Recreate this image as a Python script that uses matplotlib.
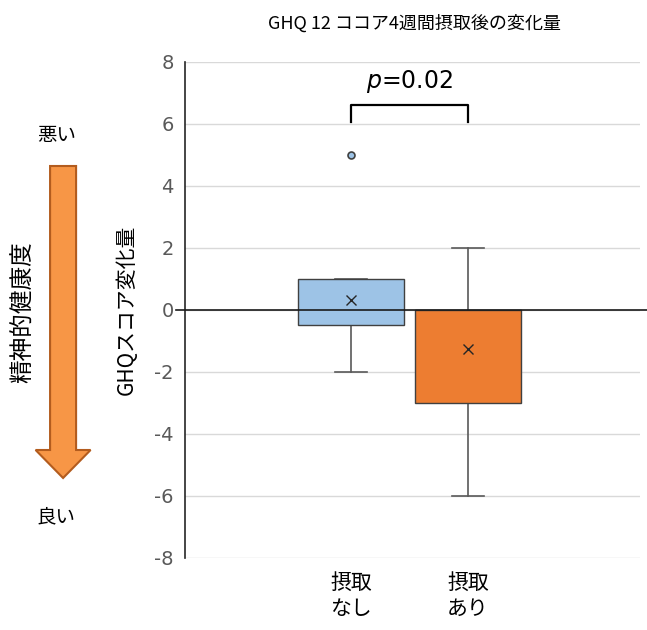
import matplotlib
matplotlib.use('Agg')
import matplotlib.pyplot as plt
from matplotlib.patches import FancyArrow

plt.rcParams['font.family'] = ['Noto Sans CJK JP', 'DejaVu Sans']
plt.rcParams['axes.unicode_minus'] = False

# data
groups = ['摂取\nなし', '摂取\nあり']
q1 = [-0.5, -3.0]
q3 = [1.0, 0.0]
med = [0.0, 0.0]
mean = [0.33, -1.25]
whislo = [-2.0, -6.0]
whishi = [1.0, 2.0]
fliers = [[5.0], []]
colors = ['#9DC3E6', '#ED7D31']

fig = plt.figure(figsize=(6.47, 6.30), dpi=100)
ax = fig.add_axes([0.286, 0.1143, 0.703, 0.7873])

stats = []
for i in range(len(groups)):
    stats.append({'q1': q1[i], 'q3': q3[i], 'med': med[i], 'mean': mean[i],
                  'whislo': whislo[i], 'whishi': whishi[i], 'fliers': fliers[i]})

pos = [1, 2]
bp = ax.bxp(stats, positions=pos, widths=0.9, patch_artist=True, showmeans=True,
            boxprops=dict(edgecolor='#404040', linewidth=1.0),
            whiskerprops=dict(color='#595959', linewidth=1.2),
            capprops=dict(color='#595959', linewidth=1.2),
            medianprops=dict(color='#404040', linewidth=1.0),
            meanprops=dict(marker='x', markeredgecolor='#262626', markersize=7, markeredgewidth=1.0),
            flierprops=dict(marker='o', markersize=5, markerfacecolor='#9DC3E6',
                            markeredgecolor='#404040', markeredgewidth=1.2),
            capwidths=0.27, zorder=3)
for patch, c in zip(bp['boxes'], colors):
    patch.set_facecolor(c)
    patch.set_zorder(3.5)
for m in bp['means']:
    m.set_zorder(5)

ax.set_xlim(-0.42, 3.47)
ax.set_ylim(-8, 8)
ax.set_yticks(range(-8, 9, 2))
ax.yaxis.grid(True, color='#D9D9D9', linewidth=1.0, zorder=0)
ax.set_axisbelow(True)
for s in ['top', 'right', 'bottom']:
    ax.spines[s].set_visible(False)
ax.spines['left'].set_color('#262626')
ax.spines['left'].set_linewidth(1.2)
ax.tick_params(axis='y', length=0, labelsize=14, labelcolor='#595959', pad=8)
ax.tick_params(axis='x', length=0, labelsize=15, pad=10)
ax.set_xticks(pos)
ax.set_xticklabels(groups, linespacing=1.25)
for lbl in ax.get_yticklabels():
    lbl.set_family('DejaVu Sans')

# zero line running past the plot to the right edge
ax.plot([-0.5, 3.6], [0, 0], color='#1a1a1a', linewidth=1.2, clip_on=False, zorder=4)

# significance bracket
ax.plot([1, 1, 2, 2], [6.05, 6.6, 6.6, 6.05], color='black', linewidth=1.6, zorder=4)
ax.text(1.5, 6.95, r'$p$=0.02', ha='center', va='bottom', fontsize=17,
        family='DejaVu Sans')

ax.set_ylabel('GHQスコア変化量', fontsize=15, labelpad=12)
fig.text(0.64, 0.962, 'GHQ 12 ココア4週間摂取後の変化量', ha='center', va='center', fontsize=13)

# left side annotation
fig.text(0.087, 0.785, '悪い', ha='center', va='center', fontsize=14)
fig.text(0.087, 0.18, '良い', ha='center', va='center', fontsize=14)
fig.text(0.036, 0.505, '精神的健康度', ha='center', va='center', rotation=90, fontsize=17)
arr = FancyArrow(0.0975, 1 - 166 / 630, 0, -(478 - 166) / 630, width=26 / 647,
                 head_width=55 / 647, head_length=28 / 630, length_includes_head=True,
                 transform=fig.transFigure, facecolor='#F79646', edgecolor='#B35C1E',
                 linewidth=1.5)
fig.patches.append(arr)

fig.savefig('out.png', dpi=100)
